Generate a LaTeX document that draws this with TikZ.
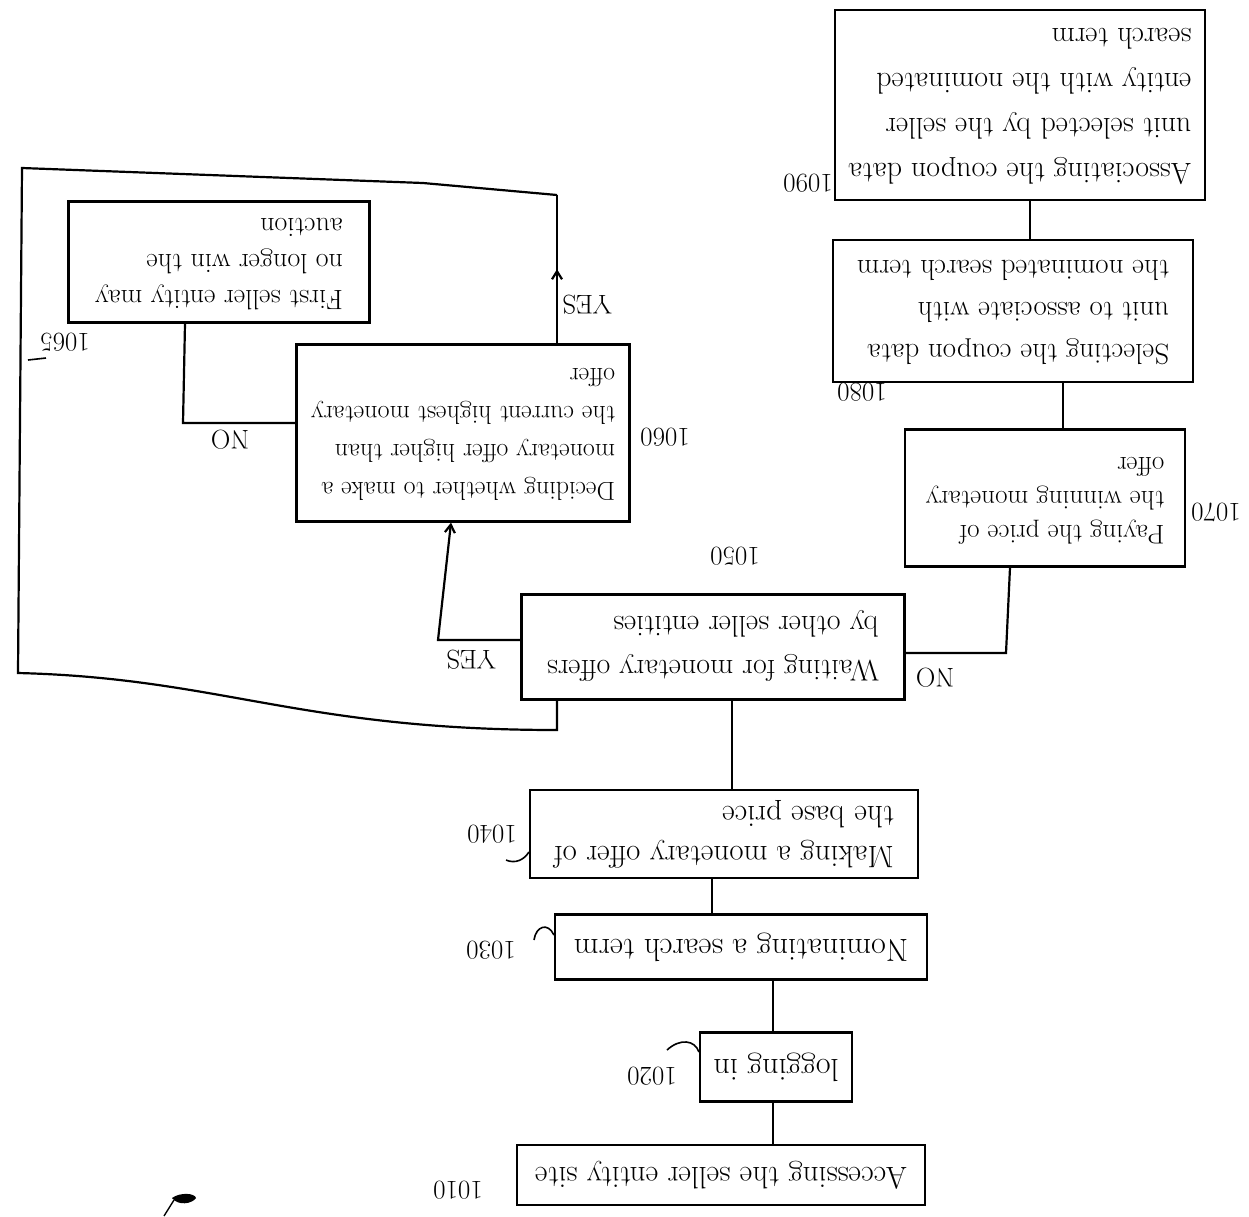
\documentclass[tikz,border=0pt]{standalone}
\usetikzlibrary{arrows.meta,decorations.markings}
\newcommand{\ud}[1]{\rotatebox[origin=c]{180}{\begin{tabular}{@{}l@{}}#1\end{tabular}}}
\begin{document}
\begin{tikzpicture}[x=1pt,y=-1pt,
  box/.style={draw, line width=2.2pt, inner sep=0pt, font=\fontsize{24}{38}\selectfont},
  lbl/.style={inner sep=1pt, font=\fontsize{27}{30}\selectfont, rotate=180},
  conn/.style={line width=2.2pt},
  lead/.style={line width=1.6pt},
  tip/.style={-{Straight Barb[length=8pt,width=10pt]}},
  midtip/.style={decoration={markings, mark=at position 0.5 with {\arrow{Straight Barb[length=8pt,width=10pt]}}}, postaction={decorate}}]
\useasboundingbox (0,0) rectangle (1249,1216);
\fill[white] (0,0) rectangle (1249,1216);

% boxes
\node[box, minimum width=370pt, minimum height=190pt, font=\fontsize{30}{45}\selectfont] (assoc) at (1020,105)
  {\ud{Associating the coupon data\\unit selected by the seller\\entity with the nominated\\search term}};
\node[box, minimum width=360pt, minimum height=142pt, font=\fontsize{29}{42}\selectfont] (select) at (1013,311)
  {\ud{Selecting the coupon data\\unit to associate with\\the nominated search term}};
\node[box, minimum width=280pt, minimum height=137pt, font=\fontsize{27}{34}\selectfont] (pay) at (1045,498)
  {\ud{Paying the price of\\the winning monetary\\offer}};
\node[box, minimum width=383pt, minimum height=105pt, font=\fontsize{30}{44}\selectfont] (wait) at (713,647)
  {\ud{Waiting for monetary offers\\by other seller entities}};
\node[box, minimum width=333pt, minimum height=177pt, font=\fontsize{26}{38}\selectfont] (decide) at (463,433)
  {\ud{Deciding whether to make a\\monetary offer higher than\\the current highest monetary\\offer}};
\node[box, minimum width=301pt, minimum height=121pt, font=\fontsize{28}{36}\selectfont] (first) at (219,262)
  {\ud{First seller entity may\\no longer win the\\auction}};
\node[box, minimum width=388pt, minimum height=88pt, font=\fontsize{31}{40}\selectfont] (make) at (724,834)
  {\ud{Making a monetary offer of\\the base price}};
\node[box, minimum width=372pt, minimum height=65pt, font=\fontsize{32}{40}\selectfont] (nom) at (741,947)
  {\ud{Nominating a search term}};
\node[box, minimum width=152pt, minimum height=69pt, font=\fontsize{32}{40}\selectfont] (log) at (776,1067)
  {\ud{logging in}};
\node[box, minimum width=408pt, minimum height=60pt, font=\fontsize{31}{40}\selectfont] (acc) at (721,1175)
  {\ud{Accessing the seller entity site}};

% reference numerals
\node[lbl] (l1090) at (808,183) {1090};
\node[lbl] (l1080) at (862,392) {1080};
\node[lbl] (l1070) at (1216,512) {1070};
\node[lbl] (l1050) at (735,556) {1050};
\node[lbl] (l1060) at (665,437) {1060};
\node[lbl] (l1065) at (65,342) {1065};
\node[lbl] (l1040) at (492,834) {1040};
\node[lbl] (l1030) at (491,950) {1030};
\node[lbl] (l1020) at (652,1076) {1020};
\node[lbl] (l1010) at (458,1190) {1010};

% branch labels
\node[lbl] (no1) at (935,678) {NO};
\node[lbl] (yes1) at (471,660) {YES};
\node[lbl] (no2) at (230,440) {NO};
\node[lbl] (yes2) at (587,305) {YES};

% lead lines
\draw[lead] (667,1050) .. controls (680,1038) and (695,1040) .. (log.west |- 0,1052);
\draw[lead] (506,860) .. controls (515,864) and (524,860) .. (make.west |- 0,852);
\draw[lead] (534,940) .. controls (536,926) and (548,922) .. (nom.west |- 0,935);
\draw[lead] (28,360) -- (46,358);

% straight connectors
\draw[conn] (assoc.south -| 1030,0) -- (select.north -| 1030,0);
\draw[conn] (select.south -| 1063,0) -- (pay.north -| 1063,0);
\coordinate (c1) at (1006,653);
\draw[conn] (pay.south -| 1010,0) -- (c1) -- (wait.east |- c1);
\draw[conn] (wait.south -| 732,0) -- (make.north -| 732,0);
\draw[conn] (make.south -| 712,0) -- (nom.north -| 712,0);
\draw[conn] (nom.south -| 773,0) -- (log.north -| 773,0);
\draw[conn] (log.south -| 773,0) -- (acc.north -| 773,0);

% YES: waiting -> deciding
\coordinate (c2) at (438,640);
\draw[conn, tip] (wait.west |- c2) -- (c2) -- (decide.south -| 451,0);

% NO: deciding -> first
\coordinate (c3) at (183,423);
\draw[conn] (decide.west |- c3) -- (c3) -- (first.south -| 185,0);

% YES loop: deciding -> waiting
\coordinate (t1) at (557,195);
\coordinate (t2) at (423,183);
\coordinate (t3) at (22,168);
\coordinate (b1) at (18,673);
\coordinate (b2) at (557,730);
\draw[conn, midtip] (decide.north -| t1) -- (t1);
\draw[conn] (t1) -- (t2) -- (t3) -- (b1) .. controls (220,678) and (300,730) .. (b2) -- (wait.south -| b2);

% small scribble
\fill (172,1198) .. controls (180,1192) and (195,1193) .. (196,1198) .. controls (192,1204) and (178,1206) .. (172,1198) -- cycle;
\draw[line width=1.4pt] (174,1200) -- (164,1216);
\end{tikzpicture}
\end{document}
